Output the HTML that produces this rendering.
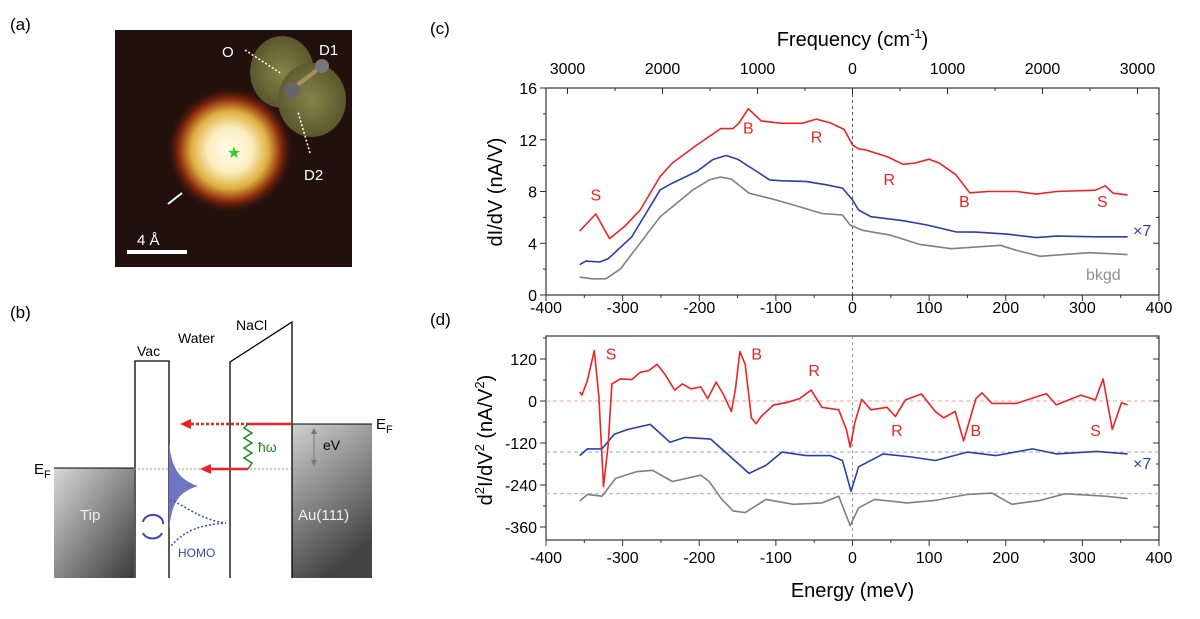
<!DOCTYPE html>
<html><head><meta charset="utf-8"><style>
html,body{margin:0;padding:0;background:#fff;}
svg{display:block;font-family:"Liberation Sans",Arial,sans-serif;}
</style></head><body>
<svg id="fig" width="1200" height="619" viewBox="0 0 1200 619" xmlns="http://www.w3.org/2000/svg">
<defs>
<radialGradient id="blob" cx="0.5" cy="0.5" r="0.5">
<stop offset="0" stop-color="#fffbe8"/><stop offset="0.35" stop-color="#fbeec0"/><stop offset="0.6" stop-color="#e0b040"/><stop offset="0.8" stop-color="#8a2a0c"/><stop offset="1" stop-color="#2a100b" stop-opacity="0"/>
</radialGradient>
<radialGradient id="lobe" cx="0.5" cy="0.5" r="0.5"><stop offset="0" stop-color="#8a8a4a"/><stop offset="1" stop-color="#5e5a30"/></radialGradient>
<linearGradient id="tipg" x1="0" y1="0" x2="1" y2="1"><stop offset="0" stop-color="#d8d8d8"/><stop offset="1" stop-color="#3a3a3a"/></linearGradient>
<linearGradient id="aug" x1="0" y1="0" x2="0.4" y2="1"><stop offset="0" stop-color="#d0d0d0"/><stop offset="1" stop-color="#444"/></linearGradient>
</defs>

<!-- panel a -->
<text x="10" y="30" font-size="17">(a)</text>
<g>
<rect x="115" y="30" width="237" height="237" fill="#22100c"/>
<circle cx="230" cy="150" r="64" fill="url(#blob)"/>
<ellipse cx="282" cy="72" rx="32" ry="36" fill="url(#lobe)" opacity="0.95"/>
<ellipse cx="312" cy="100" rx="34" ry="37" fill="url(#lobe)" opacity="0.95"/>
<line x1="291" y1="90" x2="322" y2="66" stroke="#aa9060" stroke-width="4"/>
<circle cx="322" cy="66" r="7" fill="#777"/><circle cx="292" cy="90" r="8" fill="#666"/>
<text x="234" y="158" font-size="16" fill="#3c3" text-anchor="middle">★</text>
<text x="222" y="57" font-size="15" fill="#fff">O</text>
<text x="319" y="55" font-size="15" fill="#fff">D1</text>
<text x="304" y="180" font-size="15" fill="#fff">D2</text>
<line x1="245" y1="50" x2="282" y2="74" stroke="#fff" stroke-width="1.5" stroke-dasharray="2 2"/>
<line x1="310" y1="153" x2="298" y2="112" stroke="#fff" stroke-width="1.5" stroke-dasharray="2 2"/>
<line x1="168" y1="204" x2="182" y2="193" stroke="#fff" stroke-width="2"/>
<text x="137" y="245" font-size="15" fill="#fff">4 Å</text>
<rect x="127" y="250" width="60" height="4" fill="#fff"/>
</g>

<!-- panel b -->
<text x="10" y="318" font-size="17">(b)</text>
<g font-size="14">
<rect x="54" y="468" width="80" height="110" fill="url(#tipg)"/>
<rect x="292" y="424" width="80" height="154" fill="url(#aug)"/>
<line x1="54" y1="468" x2="134" y2="468" stroke="#000"/>
<line x1="292" y1="424" x2="372" y2="424" stroke="#000"/>
<polyline points="135,578 135,361 169,361 169,578" fill="none" stroke="#000" stroke-width="1.3"/>
<polyline points="230,578 230,362 292,322 292,578" fill="none" stroke="#000" stroke-width="1.3"/>
<line x1="134" y1="469" x2="328" y2="469" stroke="#999" stroke-dasharray="2 2"/>
<text x="34" y="474" font-size="15">E<tspan font-size="11" dy="4">F</tspan></text>
<text x="376" y="429" font-size="15">E<tspan font-size="11" dy="4">F</tspan></text>
<text x="137" y="356">Vac</text><text x="178" y="343">Water</text><text x="236" y="330">NaCl</text>
<text x="80" y="520" fill="#eee" font-size="15">Tip</text><text x="298" y="520" fill="#eee" font-size="15">Au(111)</text>
<line x1="186" y1="424" x2="248" y2="424" stroke="#e22" stroke-width="2.5" stroke-dasharray="3 2"/>
<line x1="248" y1="424" x2="292" y2="424" stroke="#e22" stroke-width="2.5"/>
<polygon points="180,424 191,419 191,429" fill="#e22"/>
<line x1="206" y1="469" x2="248" y2="469" stroke="#e22" stroke-width="2.5"/>
<polygon points="200,469 211,464 211,474" fill="#e22"/>
<polyline points="248,424 244,428 252,433 244,438 252,443 244,448 252,453 244,458 252,463 248,469" fill="none" stroke="#282" stroke-width="1.5"/>
<text x="258" y="452" fill="#282">ħω</text>
<line x1="314" y1="430" x2="314" y2="464" stroke="#777"/>
<polygon points="314,428 311,434 317,434" fill="#777"/><polygon points="314,466 311,460 317,460" fill="#777"/>
<text x="323" y="450">eV</text>
<path d="M169,443 C172,470 180,480 198,486 C180,492 172,500 169,530 Z" fill="#7075c0"/>
<path d="M170,500 C185,505 200,520 226,523 C200,525 185,530 170,547" fill="none" stroke="#3a4ab0" stroke-width="1.5" stroke-dasharray="2 2"/>
<path d="M143,522 A10 8 0 0 1 163,524" fill="none" stroke="#3a4ab0" stroke-width="2"/>
<path d="M162,533 A10 8 0 0 1 143,533" fill="none" stroke="#3a4ab0" stroke-width="2"/>
<text x="178" y="557" fill="#3a4ab0" font-size="12">HOMO</text>
</g>

<text x="430" y="34" font-size="17">(c)</text>
<text x="430" y="325" font-size="17">(d)</text>
<g id="chartC"></g>
<g id="chartD"></g>
</svg>
<script>
// ---- chart (c) data ----
const cRedE=[-356,-335,-317,-298,-277,-251,-235,-203,-172,-156,-148,-136,-119,-92,-66,-47,-29,-11,0,8,18,45,66,82,100,113,135,153,177,214,240,266,317,330,340,359];
const cRedV=[4.94,6.26,4.36,5.27,6.57,9.17,10.2,11.6,12.86,12.86,13.3,14.4,13.45,13.27,13.27,13.6,13.3,12.8,11.6,11.3,11.2,10.7,10.1,10.2,10.5,10.2,9.3,7.9,8.0,8.0,7.8,8.0,8.1,8.44,7.87,7.74];
const cBlueE=[-356,-348,-330,-319,-288,-251,-235,-203,-182,-165,-150,-129,-108,-92,-61,-34,-13,0,8,24,66,98,135,161,203,240,266,319,359];
const cBlueV=[2.34,2.62,2.55,2.8,4.5,8.13,8.65,9.56,10.47,10.78,10.5,9.7,8.9,8.83,8.78,8.52,8.26,7.35,6.57,6.05,5.74,5.4,4.88,4.86,4.7,4.44,4.55,4.5,4.5];
const cGrayE=[-356,-340,-322,-303,-251,-208,-187,-172,-158,-135,-103,-77,-40,-13,-3,13,50,87,129,193,214,245,277,309,359];
const cGrayV=[1.38,1.25,1.25,2.0,6.05,8.13,8.9,9.12,8.96,7.87,7.4,6.96,6.3,6.18,5.4,5.0,4.62,3.92,3.58,3.84,3.45,2.99,3.14,3.27,3.12];
const cYTicks=[0,4,8,12,16];
const xTicks=[-400,-300,-200,-100,0,100,200,300,400];
const freqTicks=[-3000,-2000,-1000,0,1000,2000,3000];
// ---- chart (d) data ----
const dRedE=[-356,-353,-346,-337,-331,-325,-319,-314,-303,-288,-277,-266,-255,-245,-232,-222,-211,-198,-189,-178,-169,-158,-153,-147,-140,-132,-126,-119,-103,-87,-69,-54,-40,-18,-8,-3,3,12,24,45,56,69,90,108,119,134,145,161,169,182,214,253,266,298,317,327,339,351,359];
const dRedV=[26,17,59,144,12,-244,-128,49,63,61,82,87,105,77,31,49,35,40,7,54,21,-30,31,141,105,-48,-65,-44,-11,-5,7,31,-18,-25,-81,-132,-62,5,-25,-18,-44,3,20,-30,-48,-30,-114,7,23,-7,-7,21,-11,17,3,63,-81,-5,-11];
const dBlueE=[-356,-346,-327,-311,-293,-264,-238,-219,-185,-166,-135,-113,-92,-61,-29,-13,-2,8,40,77,108,150,187,235,266,319,359];
const dBlueV=[-156,-137,-137,-95,-81,-67,-118,-104,-109,-146,-207,-184,-146,-156,-156,-170,-258,-188,-151,-160,-170,-146,-156,-137,-151,-144,-151];
const dGrayE=[-356,-346,-327,-309,-282,-261,-235,-198,-187,-172,-156,-140,-113,-77,-40,-18,-3,8,29,71,108,150,182,208,245,277,330,359];
const dGrayV=[-286,-267,-272,-221,-202,-198,-230,-212,-230,-277,-314,-319,-281,-295,-291,-272,-356,-305,-281,-291,-284,-267,-263,-295,-284,-265,-272,-279];
const dYTicks=[-360,-240,-120,0,120];
const dBaselines=[0,-146,-265];

const NS='http://www.w3.org/2000/svg';
const X0=546,X1=1159;
const xs=e=>X0+(e+400)/800*(X1-X0);
const yc=v=>295-v*(295-88)/16;
const yd=v=>401-v*0.35;
const DT=336,DB=540;
function el(parent,tag,attrs,text){const n=document.createElementNS(NS,tag);for(const k in attrs)n.setAttribute(k,attrs[k]);if(text!==undefined)n.textContent=text;parent.appendChild(n);return n;}
function line(g,E,V,ys,color,name){
  const d=E.map((e,i)=>(i?'L':'M')+xs(e).toFixed(1)+','+ys(V[i]).toFixed(1)).join('');
  const p=el(g,'path',{d:d,fill:'none',stroke:color,'stroke-width':1.6,'stroke-linejoin':'round'});
  
  
}
function frame(g,top,bot){
  el(g,'rect',{x:X0,y:top,width:X1-X0,height:bot-top,fill:'none',stroke:'#333','stroke-width':1.2});
  for(let e=-400;e<=400;e+=50){const L=e%100===0?6:3;el(g,'line',{x1:xs(e),y1:bot,x2:xs(e),y2:bot+L,stroke:'#333'});}
}
const gc=document.getElementById('chartC');
frame(gc,88,295);
el(gc,'line',{x1:xs(0),y1:88,x2:xs(0),y2:295,stroke:'#333','stroke-dasharray':'3 3','stroke-width':0.8});
for(let v=0;v<=16;v+=2){const L=v%4===0?6:3;el(gc,'line',{x1:X0-L,y1:yc(v),x2:X0,y2:yc(v),stroke:'#333'});el(gc,'line',{x1:X1,y1:yc(v),x2:X1-L,y2:yc(v),stroke:'#333'});}
cYTicks.forEach(v=>{const t=el(gc,'text',{x:X0-9,y:yc(v)+6,'font-size':16,'text-anchor':'end'},String(v));});
xTicks.forEach(v=>{const t=el(gc,'text',{x:xs(v),y:313,'font-size':16,'text-anchor':'middle'},String(v));});
for(let f=-3000;f<=3000;f+=500){const e=f/8.0655;const L=f%1000===0?6:3;el(gc,'line',{x1:xs(e),y1:88,x2:xs(e),y2:88+L,stroke:'#333'});}
freqTicks.forEach(f=>{const t=el(gc,'text',{x:xs(f/8.0655),y:74,'font-size':16,'text-anchor':'middle'},String(Math.abs(f)));});
let t=el(gc,'text',{x:xs(0),y:46,'font-size':20,'text-anchor':'middle'});t.innerHTML='Frequency (cm<tspan font-size="13" dy="-8">-1</tspan><tspan dy="8">)</tspan>';

t=el(gc,'text',{x:0,y:0,'font-size':20,'text-anchor':'middle',transform:'translate(502,192) rotate(-90)'},'dI/dV (nA/V)');

line(gc,cGrayE,cGrayV,yc,'#808080','bkgd-line');
line(gc,cBlueE,cBlueV,yc,'#2b3ea8','water-x7-line');
line(gc,cRedE,cRedV,yc,'#ee2222','water-line');
[['S',-335,7.3],['B',-136,12.5],['R',-47,11.8],['R',48,8.5],['B',146,6.8],['S',326,6.8]].forEach(a=>{const n=el(gc,'text',{x:xs(a[1]),y:yc(a[2]),'font-size':16,fill:'#ee2222','text-anchor':'middle'},a[0]);});
t=el(gc,'text',{x:1133,y:236,'font-size':16,fill:'#2b3ea8'},'×7');
t=el(gc,'text',{x:1086,y:280,'font-size':16,fill:'#909090'},'bkgd');

const gd=document.getElementById('chartD');
frame(gd,DT,DB);
el(gd,'line',{x1:xs(0),y1:DT,x2:xs(0),y2:DB,stroke:'#888','stroke-dasharray':'3 3','stroke-width':0.8});
const bcol=['#f4a0a0','#8f96d0','#aaa'];
dBaselines.forEach((b,i)=>el(gd,'line',{x1:X0,y1:yd(b),x2:X1,y2:yd(b),stroke:bcol[i],'stroke-dasharray':'4 3','stroke-width':0.9}));
for(let v=-360;v<=180;v+=60){if(yd(v)<DT)continue;const L=v%120===0?6:3;el(gd,'line',{x1:X0-L,y1:yd(v),x2:X0,y2:yd(v),stroke:'#333'});el(gd,'line',{x1:X1,y1:yd(v),x2:X1-L,y2:yd(v),stroke:'#333'});}
dYTicks.forEach(v=>{const n=el(gd,'text',{x:X0-9,y:yd(v)+6,'font-size':16,'text-anchor':'end'},String(v));});
xTicks.forEach(v=>{const n=el(gd,'text',{x:xs(v),y:563,'font-size':16,'text-anchor':'middle'},String(v));});
t=el(gd,'text',{x:xs(0),y:597,'font-size':20,'text-anchor':'middle'},'Energy (meV)');
t=el(gd,'text',{x:0,y:0,'font-size':20,'text-anchor':'middle',transform:'translate(492,440) rotate(-90)'});
t.innerHTML='d<tspan font-size="13" dy="-8">2</tspan><tspan dy="8">I/dV</tspan><tspan font-size="13" dy="-8">2</tspan><tspan dy="8"> (nA/V</tspan><tspan font-size="13" dy="-8">2</tspan><tspan dy="8">)</tspan>';

line(gd,dGrayE,dGrayV,yd,'#808080','bkgd-d2-line');
line(gd,dBlueE,dBlueV,yd,'#2b3ea8','water-x7-d2-line');
line(gd,dRedE,dRedV,yd,'#ee2222','water-d2-line');
[['S',-315,118],['B',-125,118],['R',-50,72],['R',58,-100],['B',161,-100],['S',317,-100]].forEach(a=>{const n=el(gd,'text',{x:xs(a[1]),y:yd(a[2]),'font-size':16,fill:'#ee2222','text-anchor':'middle'},a[0]);});
t=el(gd,'text',{x:1133,y:469,'font-size':16,fill:'#2b3ea8'},'×7');
</script>
</body></html>
